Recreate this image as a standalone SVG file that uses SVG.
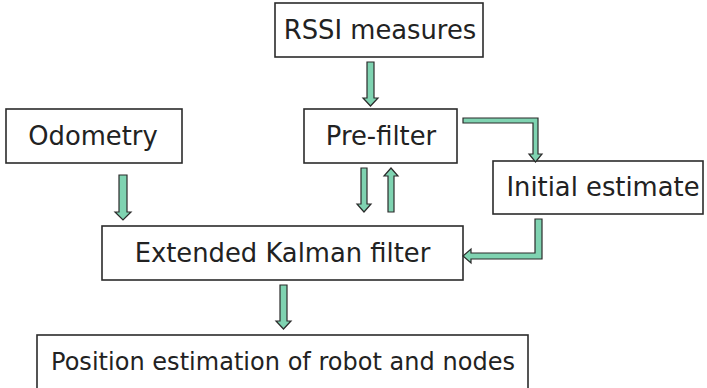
<svg xmlns="http://www.w3.org/2000/svg" width="707" height="388" viewBox="0 0 707 388">
<style>
.box{fill:#fff;stroke:#2b2b2b;stroke-width:1.6}
.lbl{font-family:"DejaVu Sans",Verdana,sans-serif;font-size:25.8px;fill:#222}
.arr{fill:#7fd3b1;stroke:#2b2b2b;stroke-width:1.2;stroke-linejoin:miter}
</style>
<rect width="707" height="388" fill="#fff"/>
<g id="rssi"><rect class="box" x="275" y="3" width="208" height="54"/><text class="lbl" x="380" y="39" text-anchor="middle">RSSI measures</text></g>
<g id="prefilter"><rect class="box" x="304" y="109" width="153" height="54"/><text class="lbl" x="381" y="145" text-anchor="middle">Pre-filter</text></g>
<g id="odometry"><rect class="box" x="6" y="109" width="176" height="54"/><text class="lbl" x="93" y="145" text-anchor="middle">Odometry</text></g>
<g id="initial"><rect class="box" x="493" y="161" width="210" height="53"/><text class="lbl" x="603" y="196" text-anchor="middle">Initial estimate</text></g>
<g id="ekf"><rect class="box" x="102" y="226" width="361" height="54"/><text class="lbl" x="282.5" y="262" text-anchor="middle">Extended Kalman filter</text></g>
<g id="position"><rect class="box" x="37" y="335" width="491" height="70"/><text class="lbl" x="51" y="370" style="font-size:24px" textLength="464">Position estimation of robot and nodes</text></g>
<g id="connectors">
<polygon class="arr" points="367,62 374,62 374,98 378,98 370.5,106 363,98 367,98"/>
<polygon class="arr" points="119,175 127,175 127,212 131,212 123,220 115,212 119,212"/>
<polygon class="arr" points="361,168 367,168 367,204 371,204 364,212 357,204 361,204"/>
<polygon class="arr" points="388,212 394,212 394,176 398,176 391,168 384,176 388,176"/>
<polygon class="arr" points="280,285 287,285 287,321 291,321 283.5,329 276,321 280,321"/>
<polygon class="arr" points="463,118 538,118 538,154 542,154 535.5,162 529,154 533,154 533,123 463,123"/>
<polygon class="arr" points="535,219 542,219 542,259 471,259 471,263 463,256 471,249 471,253 535,253"/>
</g>
</svg>
